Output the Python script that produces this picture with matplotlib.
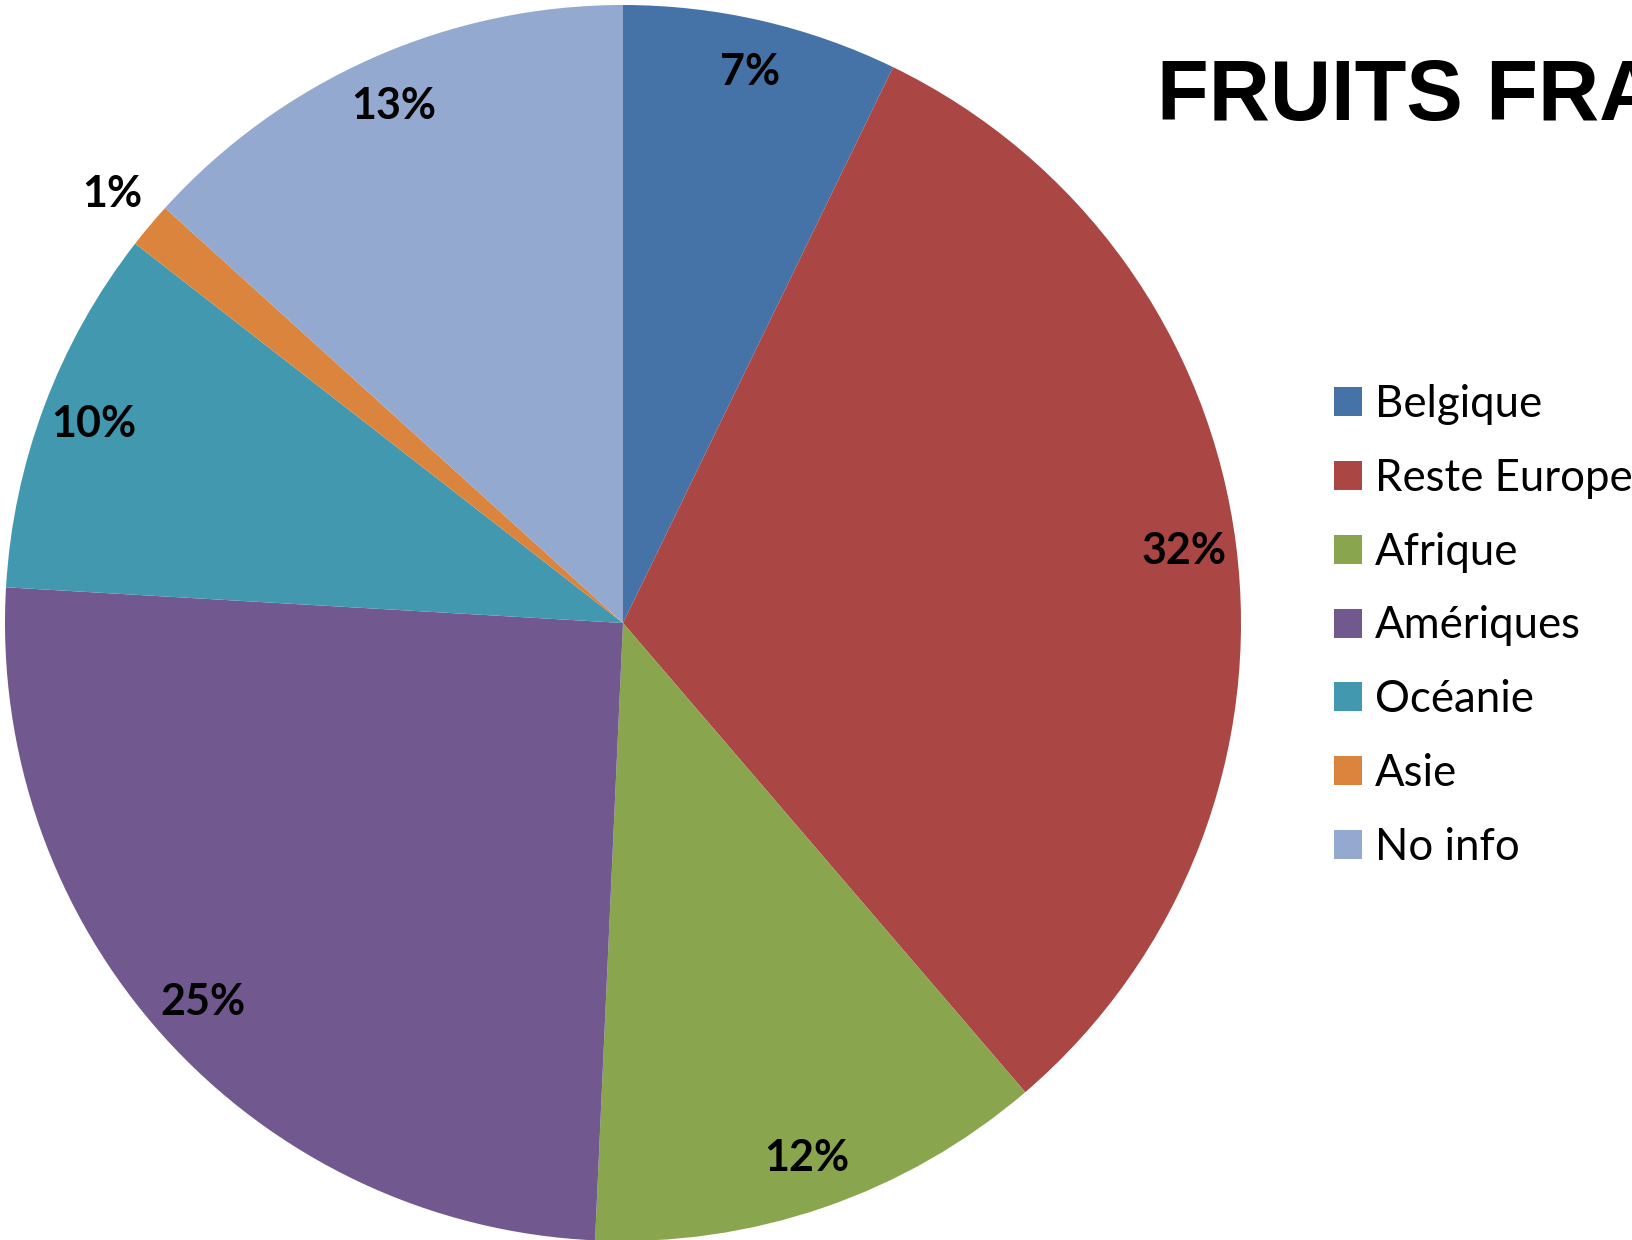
import matplotlib.pyplot as plt
from matplotlib.patches import Patch
import numpy as np

# data
regions = ["Belgique", "Reste Europe", "Afrique", "Amériques", "Océanie", "Asie", "No info"]
shares = [7.2, 31.52, 12.0, 25.2, 9.6, 1.2, 13.28]
colors = ["#4572A7", "#AA4643", "#89A54E", "#71588F", "#4198AF", "#DB843D", "#93A9CF"]

W, H = 1633, 1240
fig = plt.figure(figsize=(W/100, H/100), dpi=100)

# pie centre ~ (623,623) px, radius ~618 px
cx, cy, r = 623, 623, 618
ax = fig.add_axes([(cx-r)/W, (H-cy-r)/H, 2*r/W, 2*r/H])
wedges, texts, autotexts = ax.pie(shares, colors=colors, startangle=90, counterclock=False,
                                  autopct='%1.0f%%', pctdistance=0.915,
                                  wedgeprops=dict(linewidth=0),
                                  textprops=dict(fontsize=31, fontweight='bold', family='Lato', color='black'))
ax.set_xlim(-1, 1)
ax.set_ylim(-1, 1)
ax.set_aspect('equal')
ax.axis('off')

# the 1% label sits outside the pie
w = wedges[5]
ang = np.deg2rad((w.theta1 + w.theta2) / 2)
autotexts[5].set_position((1.08*np.cos(ang), 1.08*np.sin(ang)))

fig.text(1157/W, 1-120/H, "FRUITS FRAIS", fontsize=61, fontweight='bold',
         family='Liberation Sans', va='baseline', ha='left')

handles = [Patch(facecolor=c, edgecolor='none') for c in colors]
fig.legend(handles, regions, loc='upper left', bbox_to_anchor=(1334/W, 1-384/H),
           frameon=False, borderpad=0, borderaxespad=0,
           prop=dict(family='Lato', size=31.5),
           handlelength=0.64, handleheight=0.64, handletextpad=0.3, labelspacing=0.75)

fig.savefig("out.png", dpi=100)
